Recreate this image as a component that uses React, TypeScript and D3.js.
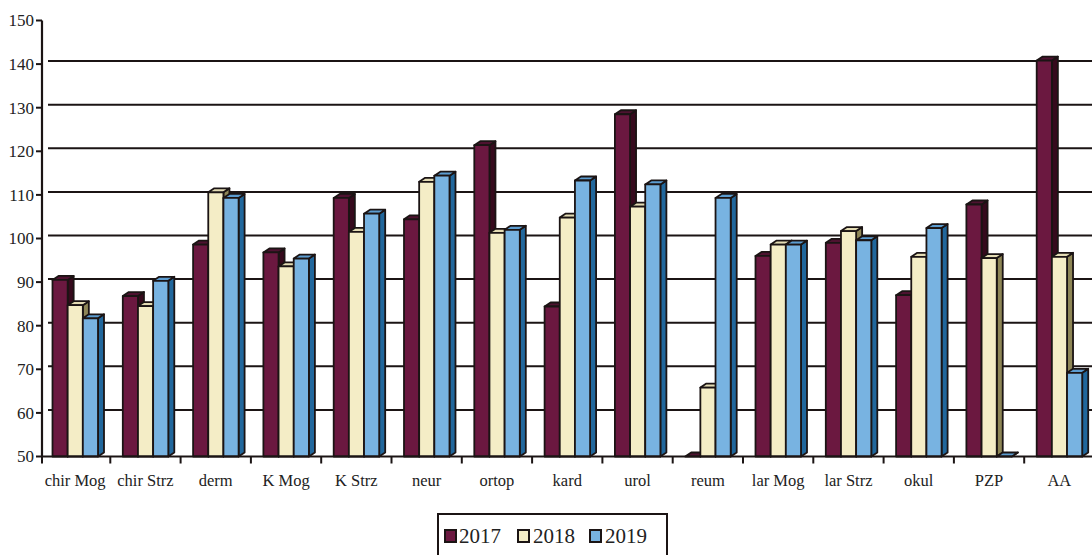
import React from "react";
import * as d3 from "d3";

const categories = ["chir Mog", "chir Strz", "derm", "K Mog", "K Strz", "neur", "ortop", "kard", "urol", "reum", "lar Mog", "lar Strz", "okul", "PZP", "AA"];
const series = ["2017", "2018", "2019"];
const values2017 = [90.5, 86.8, 98.6, 96.8, 109.3, 104.4, 121.4, 84.4, 128.5, 50, 96, 99, 87, 107.8, 140.8];
const values2018 = [84.7, 84.5, 110.6, 93.6, 101.5, 113, 101.3, 104.8, 107.3, 65.8, 98.6, 101.7, 95.8, 95.5, 95.8];
const values2019 = [81.7, 90.3, 109.3, 95.4, 105.7, 114.4, 102, 113.3, 112.4, 109.3, 98.6, 99.6, 102.4, 50, 69.2];
const yTicks = [50, 60, 70, 80, 90, 100, 110, 120, 130, 140, 150];

const colors = [
  { front: "#6b1840", top: "#4e1230", side: "#360a1d" },
  { front: "#f4edc6", top: "#e4dcb4", side: "#8e8656" },
  { front: "#78b3e1", top: "#5c9cd0", side: "#21679c" },
];

const W = 1092;
const H = 555;
const DX = 6;
const DY = 4;

export default function App() {
  const x = d3.scaleBand<string>().domain(categories).range([40, 1094.5]).padding(0);
  const inner = d3.scaleBand<string>().domain(series).range([12.5, 58]).padding(0);
  const y = d3.scaleLinear().domain([50, 150]).range([456.5, 20.5]);
  const base = y(50);
  const data = [values2017, values2018, values2019];
  const ink = "#1b1414";

  const bars: React.ReactNode[] = [];
  categories.forEach((c, ci) => {
    series.forEach((s, si) => {
      const v = data[si][ci];
      const bx = (x(c) as number) + (inner(s) as number);
      const w = inner.bandwidth();
      const yt = y(v);
      const col = colors[si];
      bars.push(
        <g key={c + s} stroke={ink} strokeWidth={1.8} strokeLinejoin="round">
          <polygon
            points={`${bx + w},${yt} ${bx + w + DX},${yt - DY} ${bx + w + DX},${base - DY} ${bx + w},${base}`}
            fill={col.side}
          />
          <polygon
            points={`${bx},${yt} ${bx + DX},${yt - DY} ${bx + w + DX},${yt - DY} ${bx + w},${yt}`}
            fill={col.top}
          />
          <rect x={bx} y={yt} width={w} height={Math.max(0, base - yt)} fill={col.front} />
        </g>
      );
    });
  });

  const legendItems = [
    { label: "2017", sq: 445, tx: 459 },
    { label: "2018", sq: 518, tx: 533 },
    { label: "2019", sq: 590, tx: 605 },
  ];

  return (
    <svg
      width={W}
      height={H}
      style={{ position: "absolute", left: 0, top: 0, background: "#ffffff" }}
      fontFamily="'Liberation Serif', 'Times New Roman', serif"
    >
      <rect x={0} y={0} width={W} height={H} fill="#ffffff" />
      {yTicks.filter((t) => t > 50 && t < 150).map((t) => (
        <line key={"g" + t} x1={48} x2={W} y1={y(t) - 3} y2={y(t) - 3} stroke={ink} strokeWidth={2} />
      ))}
      {bars}
      <line x1={42} x2={42} y1={y(150)} y2={base} stroke={ink} strokeWidth={2.2} />
      {yTicks.map((t) => (
        <g key={"t" + t}>
          <line x1={36} x2={42} y1={y(t)} y2={y(t)} stroke={ink} strokeWidth={2} />
          <text x={34} y={y(t)} dy="0.35em" textAnchor="end" fontSize={17} fill="#222">
            {t}
          </text>
        </g>
      ))}
      <line x1={41} x2={W} y1={base} y2={base} stroke={ink} strokeWidth={2.2} />
      {categories.map((c, i) => (
        <line
          key={"xt" + c}
          x1={(x(c) as number) + (i === 0 ? 2 : 0)}
          x2={(x(c) as number) + (i === 0 ? 2 : 0)}
          y1={base}
          y2={base + 7}
          stroke={ink}
          strokeWidth={2}
        />
      ))}
      {categories.map((c) => (
        <text
          key={"xl" + c}
          x={(x(c) as number) + x.bandwidth() / 2}
          y={486}
          textAnchor="middle"
          fontSize={16.5}
          fill="#222"
        >
          {c}
        </text>
      ))}
      <rect x={438} y={514} width={229} height={44} fill="#fff" stroke={ink} strokeWidth={2} />
      {legendItems.map((it, i) => (
        <g key={it.label}>
          <rect x={it.sq} y={530} width={11} height={12} fill={colors[i].front} stroke={ink} strokeWidth={2} />
          <text x={it.tx} y={543} fontSize={21} fill="#222">
            {it.label}
          </text>
        </g>
      ))}
    </svg>
  );
}
